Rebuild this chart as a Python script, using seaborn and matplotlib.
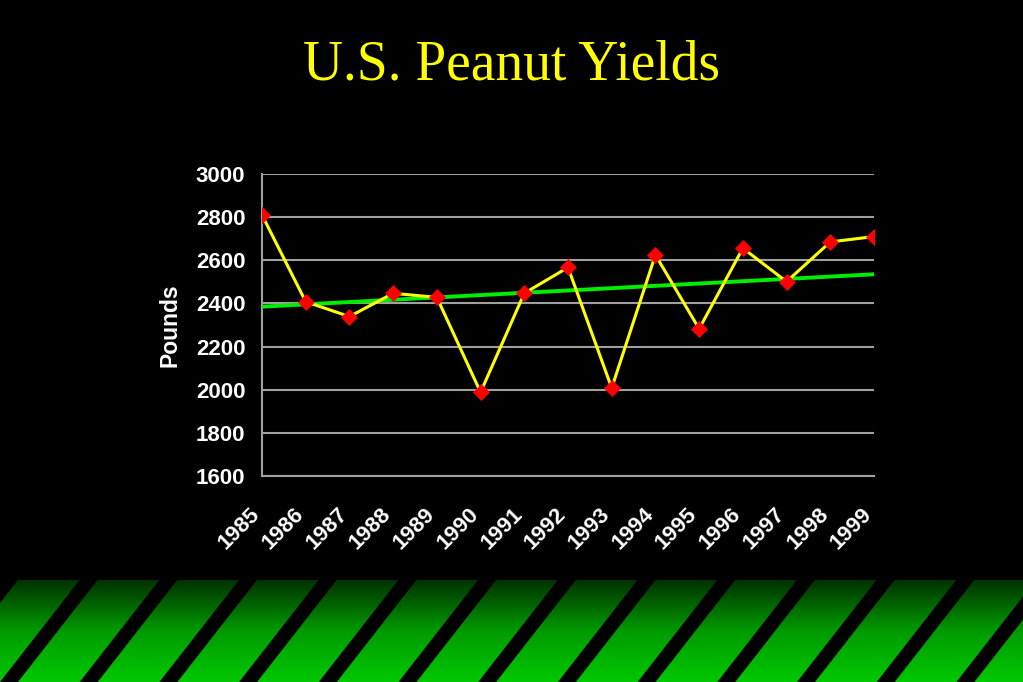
import numpy as np
import pandas as pd
import seaborn as sb
from matplotlib import pyplot as plt
from matplotlib import transforms
from matplotlib.patches import Polygon
from matplotlib.colors import LinearSegmentedColormap

years  = [1985, 1986, 1987, 1988, 1989, 1990, 1991, 1992, 1993, 1994, 1995, 1996, 1997, 1998, 1999]
yields = [2810, 2408, 2339, 2447, 2428, 1988, 2447, 2567, 2008, 2625, 2282, 2656, 2501, 2685, 2710]
y_ticks = [1600, 1800, 2000, 2200, 2400, 2600, 2800, 3000]

df = pd.DataFrame({"Year": years, "Pounds": yields})

sb.set_style("dark")
plt.rcParams["font.family"] = ["Liberation Sans", "DejaVu Sans"]

fig = plt.figure(figsize=(10.23, 6.82), dpi=100, facecolor="black")

# main chart
ax = fig.add_axes([262 / 1023, 1 - 476 / 682, 612 / 1023, 302 / 682])
ax.set_facecolor("black")

# trend line (least squares through the yields)
sb.regplot(data=df, x="Year", y="Pounds", ci=None, scatter=False, truncate=True,
           line_kws={"color": "#00ee00", "lw": 2.8, "zorder": 3}, ax=ax)
sb.lineplot(data=df, x="Year", y="Pounds", color="#ffff00", lw=2.2, zorder=4, ax=ax)
sb.scatterplot(data=df, x="Year", y="Pounds", marker="D", color="#ff0000", s=75,
               edgecolor="#ff0000", linewidth=0, zorder=5, ax=ax)

ax.set_xlim(years[0], years[-1])
ax.set_ylim(y_ticks[0], y_ticks[-1])
ax.set_yticks(y_ticks)
ax.set_xticks(years)
ax.set_yticklabels([str(v) for v in y_ticks], color="white", fontsize=16, fontweight="bold")
ax.set_xticklabels([str(v) for v in years], color="white", fontsize=16, fontweight="bold",
                   rotation=45, ha="right", va="center", rotation_mode="anchor")
ax.tick_params(axis="x", colors="#a0a0a0", length=6, width=1.5, direction="out", pad=19, labelcolor="white")
ax.tick_params(axis="y", colors="#a0a0a0", length=5, width=1.5, direction="out", pad=7, labelcolor="white")
shift = transforms.ScaledTranslation(-5 / 100, 0, fig.dpi_scale_trans)
for lab in ax.get_xticklabels():
    lab.set_transform(lab.get_transform() + shift)
ax.grid(axis="y", color="#a0a0a0", lw=1.5)
ax.grid(axis="x", visible=False)
for side in ["top", "right"]:
    ax.spines[side].set_visible(False)
for side in ["left", "bottom"]:
    ax.spines[side].set_visible(True)
    ax.spines[side].set_color("#a0a0a0")
    ax.spines[side].set_linewidth(1.5)
ax.set_xlabel("")
ax.set_ylabel("Pounds", color="white", fontsize=16.5, fontweight="bold", labelpad=10)

fig.text(0.5, 1 - 66 / 682, "U.S. Peanut Yields", color="#ffff00", fontsize=40,
         family=["Liberation Serif", "DejaVu Serif"], ha="center", va="center")

# striped green band at the bottom of the slide
band_h = 102.5
band = fig.add_axes([0, 0, 1, band_h / 682])
band.set_xlim(0, 1023)
band.set_ylim(0, band_h)
band.axis("off")
grad = np.linspace(0, 1, 100).reshape(-1, 1)
band.imshow(grad, extent=[0, 1023, 0, band_h], aspect="auto", origin="lower",
            cmap=LinearSegmentedColormap.from_list("g", ["#00c800", "#009a00", "#003000"]))
for x0 in np.arange(-79.7, 1100, 79.7):
    band.add_patch(Polygon([[x0, 0], [x0 + 18, 0], [x0 + 18 + 80, band_h], [x0 + 80, band_h]],
                           closed=True, color="black", lw=0))

fig.savefig("out.png", dpi=100, facecolor="black")
